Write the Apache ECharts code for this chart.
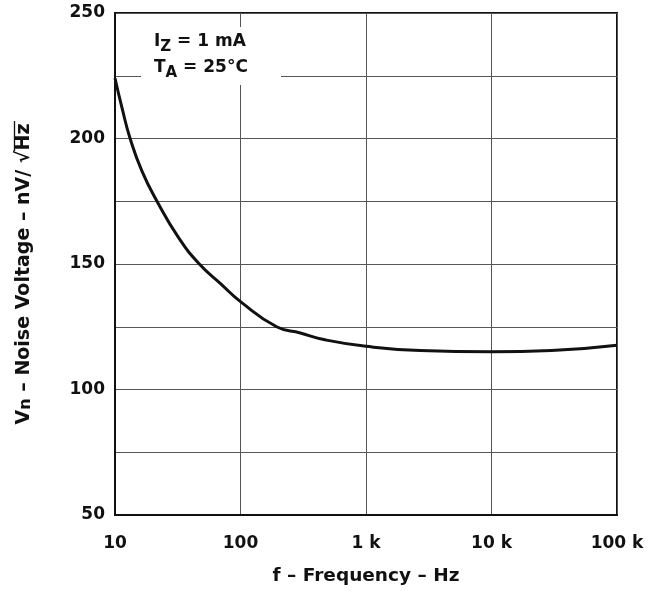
<!DOCTYPE html>
<html>
<head>
<meta charset="utf-8">
<script src="https://cdn.jsdelivr.net/npm/echarts@6/dist/echarts.min.js"></script>
<style>
html,body{margin:0;padding:0;background:#fff;}
#chart{width:658px;height:591px;}
</style>
</head>
<body>
<div id="chart"></div>
<script>
// Frequency (Hz) and noise voltage (nV/√Hz)
var frequencies = [10, 11.4, 13.2, 16.4, 21.6, 32.2, 47, 70, 100, 194, 300, 471, 1000, 2700, 10000, 30000, 100000];
var noiseVoltage = [224, 212, 200, 187, 175, 160.4, 150, 142, 135, 125, 122.5, 119.8, 117.2, 115.5, 115, 115.5, 117.6];
var xTickLabels = {10: '10', 100: '100', 1000: '1 k', 10000: '10 k', 100000: '100 k'};
var yTickLabels = [50, 100, 150, 200, 250];

var FONT = 'DejaVu Sans';
var chart = echarts.init(document.getElementById('chart'));
var seriesData = frequencies.map(function (f, i) { return [f, noiseVoltage[i]]; });

chart.setOption({
  animation: false,
  backgroundColor: '#ffffff',
  grid: {
    left: 115, right: 41, top: 13, bottom: 73,
    show: true, borderColor: '#111', borderWidth: 2, backgroundColor: 'transparent'
  },
  xAxis: {
    type: 'log', logBase: 10, min: 10, max: 100000,
    name: 'f – Frequency – Hz',
    nameLocation: 'middle', nameGap: 52,
    nameTextStyle: { fontFamily: FONT, fontWeight: 'bold', fontSize: 18.5, color: '#111' },
    axisLine: { show: true, lineStyle: { color: '#111', width: 2 } },
    axisTick: { show: false },
    axisLabel: {
      margin: 20, fontFamily: FONT, fontWeight: 'bold', fontSize: 17, color: '#111',
      formatter: function (v) { var k = Math.round(v); return xTickLabels[k] !== undefined ? xTickLabels[k] : ''; }
    },
    splitLine: { show: true, lineStyle: { color: '#555', width: 1 } },
    minorSplitLine: { show: false }
  },
  yAxis: {
    type: 'value', min: 50, max: 250, interval: 25,
    axisLine: { show: true, lineStyle: { color: '#111', width: 2 } },
    axisTick: { show: false },
    axisLabel: {
      margin: 10, fontFamily: FONT, fontWeight: 'bold', fontSize: 17, color: '#111',
      formatter: function (v) { return yTickLabels.indexOf(v) >= 0 ? String(v) : ''; }
    },
    splitLine: { show: true, lineStyle: { color: '#555', width: 1 } }
  },
  series: [{
    type: 'line',
    data: seriesData,
    smooth: 0.5,
    showSymbol: false,
    lineStyle: { color: '#111', width: 3 },
    z: 5
  }],
  graphic: [
    {
      type: 'rect', left: 141, top: 27, z: 10,
      shape: { width: 140, height: 58 },
      style: { fill: '#ffffff' }
    },
    {
      type: 'text', left: 154, top: 33, z: 11,
      style: {
        text: '{b|I}{s|Z}{b| = 1 mA}\n{b|T}{s|A}{b| = 25°C}',
        rich: {
          b: { fontFamily: FONT, fontWeight: 'bold', fontSize: 17, fill: '#111', lineHeight: 26, verticalAlign: 'middle' },
          s: { fontFamily: FONT, fontWeight: 'bold', fontSize: 15, fill: '#111', lineHeight: 16, verticalAlign: 'bottom' }
        }
      }
    },
    {
      type: 'text', x: 24, y: 274, rotation: Math.PI / 2, z: 11,
      style: {
        text: '{b|V}{s|n}{b| – Noise Voltage – nV/ √Hz}',
        align: 'center', verticalAlign: 'middle',
        rich: {
          b: { fontFamily: FONT, fontWeight: 'bold', fontSize: 19, fill: '#111', lineHeight: 20, verticalAlign: 'middle' },
          s: { fontFamily: FONT, fontWeight: 'bold', fontSize: 16, fill: '#111', lineHeight: 14, verticalAlign: 'bottom' }
        }
      }
    },
    {
      type: 'line', z: 11,
      shape: { x1: 14.5, y1: 121, x2: 14.5, y2: 151 },
      style: { stroke: '#111', lineWidth: 1.3 }
    }
  ]
});
</script>
</body>
</html>
